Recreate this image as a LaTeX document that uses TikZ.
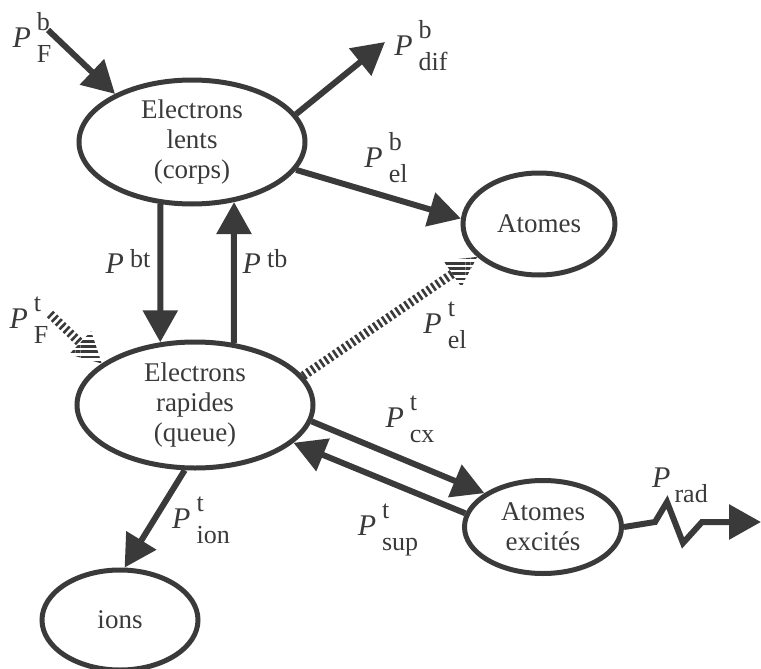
\documentclass[tikz,border=0pt]{standalone}
\usepackage{fontspec}
\setmainfont{Liberation Serif}
\usepackage{tikz}
\usetikzlibrary{shapes.geometric, arrows.meta, positioning, calc, patterns.meta}
\definecolor{inkgray}{RGB}{58, 58, 58}

\newcommand{\pw}[2]{{\fontsize{15}{15}\selectfont\itshape P}\kern3pt\raisebox{8.5pt}{\rlap{#1}}\raisebox{-7.5pt}{#2}}

\tikzset{
  etat/.style={ellipse, draw=inkgray, line width=2.5pt, inner sep=0pt, text=inkgray,
               align=center, font=\fontsize{13.5}{15}\selectfont},
  flux/.style={draw=inkgray, line width=3pt, -{Triangle[length=16pt,width=17pt]}},
  hachure/.style={draw=inkgray, line width=4.5pt, dash pattern=on 1.3pt off 1.4pt},
  pointe/.style={pattern={Lines[angle=0,distance=2.6pt,line width=1.3pt]}, pattern color=inkgray},
  etiq/.style={text=inkgray, inner sep=0pt, font=\fontsize{13}{15}\selectfont}
}

\begin{document}
\begin{tikzpicture}[x=0.5pt, y=-0.5pt]
\useasboundingbox (0,0) rectangle (761,669);

\node[etat, minimum width=113pt, minimum height=62pt] (lents) at (192,142) {Electrons\\lents\\(corps)};
\node[etat, minimum width=76pt, minimum height=51pt] (atomes) at (539,224) {Atomes};
\node[etat, minimum width=118pt, minimum height=63pt] (rap) at (195,405) {Electrons\\rapides\\(queue)};
\node[etat, minimum width=78pt, minimum height=50pt] (ions) at (120,620) {ions};
\node[etat, minimum width=78.5pt, minimum height=46.5pt] (exc) at (543,527) {Atomes\\excités};

\coordinate (fb) at (48,30);
\coordinate (dif) at (385,42);
\coordinate (ft) at (50,314);
\coordinate (radout) at (761,522);

\draw[flux] (fb) -- (lents.148);
\draw[flux] (lents.15) -- (dif);
\draw[flux] (lents.-15) -- (atomes.176);
\draw[flux] (lents.-117) -- (rap.119);
\draw[flux] (rap.58) -- (lents.-55);
\draw[flux] (rap.-8) -- (exc.150);
\draw[flux] (exc.170) -- (rap.-21);
\draw[flux] (rap.-99) -- (ions.85);
\draw[flux, line join=miter] (exc.east) -- (655,522) -- (667,502) -- (683,543) -- (702,522) -- (radout);

\coordinate (ftb) at ($(rap.156)!15pt!(ft)$);
\draw[hachure] (ft) -- (ftb);
\fill[pointe] (rap.156) -- ($(ftb)!8pt!90:(rap.156)$) -- ($(ftb)!8pt!-90:(rap.156)$) -- cycle;
\coordinate (elb) at ($(atomes.208)!15pt!(rap.15)$);
\draw[hachure] (rap.15) -- (elb);
\fill[pointe] (atomes.208) -- ($(elb)!8pt!90:(atomes.208)$) -- ($(elb)!8pt!-90:(atomes.208)$) -- cycle;

\node[etiq] (lfb) at (32,37) {\pw{b}{F}};
\node[etiq] (ldif) at (421,46) {\pw{b}{dif}};
\node[etiq] (lelb) at (386,158) {\pw{b}{el}};
\node[etiq] (lbt) at (128,261) {{\fontsize{15}{15}\selectfont\itshape P}\kern3pt\raisebox{3pt}{bt}};
\node[etiq] (ltb) at (265,261) {{\fontsize{15}{15}\selectfont\itshape P}\kern3pt\raisebox{3pt}{tb}};
\node[etiq] (lft) at (29,320) {\pw{t}{F}};
\node[etiq] (lelt) at (445,325) {\pw{t}{el}};
\node[etiq] (lcx) at (410,419) {\pw{t}{cx}};
\node[etiq] (lsup) at (388,530) {\pw{t}{sup}};
\node[etiq] (lion) at (201,520) {\pw{t}{ion}};
\node[etiq] (lrad) at (680,485) {{\fontsize{15}{15}\selectfont\itshape P}\kern2pt\raisebox{-7.5pt}{rad}};
\end{tikzpicture}
\end{document}
